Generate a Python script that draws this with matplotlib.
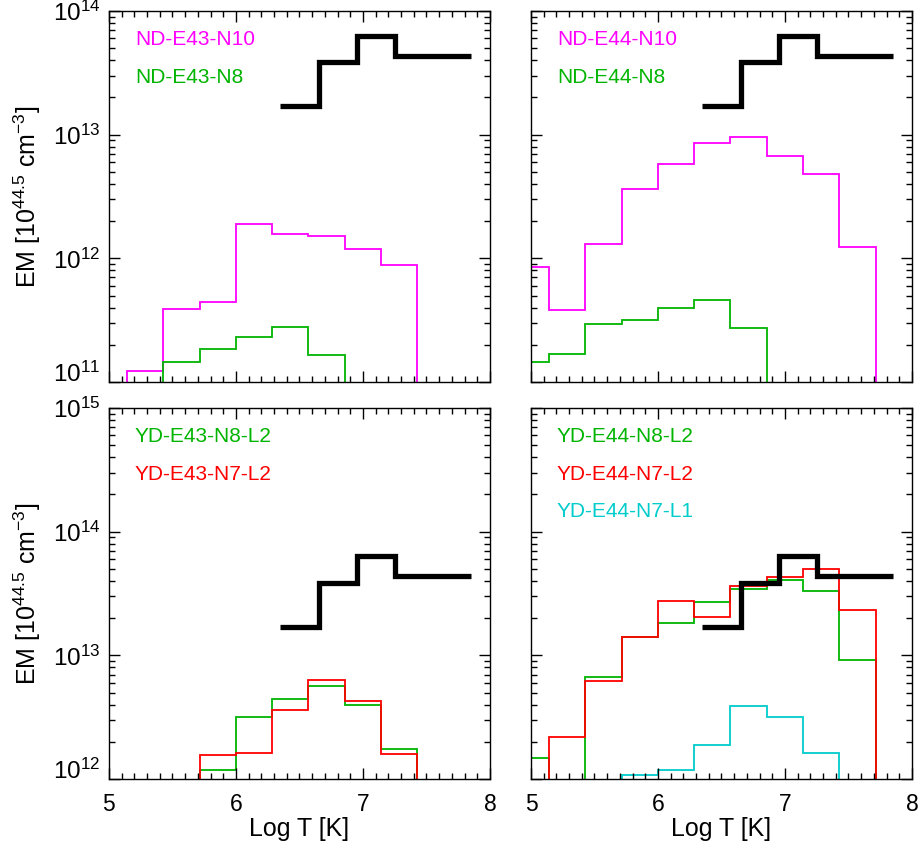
import matplotlib
matplotlib.use("Agg")
import matplotlib.pyplot as plt
from matplotlib.ticker import LogLocator, MultipleLocator, FixedLocator, NullFormatter
import numpy as np

plt.rcParams['font.family'] = ['Liberation Sans', 'DejaVu Sans']
plt.rcParams['mathtext.fontset'] = 'custom'
plt.rcParams['mathtext.rm'] = 'Liberation Sans'
plt.rcParams['mathtext.it'] = 'Liberation Sans:italic'
plt.rcParams['mathtext.bf'] = 'Liberation Sans:bold'

# ---------------- data ----------------
# bin edges in Log T
edges = [4.857, 5.143, 5.429, 5.714, 6.000, 6.286, 6.571, 6.857, 7.143, 7.429, 7.714, 8.0]
LOW = 1e-5  # below plotted range

# reference (thick black) curve
ref_edges = [6.35, 6.65, 6.95, 7.25, 7.85]
ref_vals = [1.70e13, 3.85e13, 6.3e13, 4.35e13]

# top-left
nd_e43_n10 = [LOW, 1.22e11, 3.9e11, 4.4e11, 1.88e12, 1.57e12, 1.52e12, 1.2e12, 8.9e11, LOW, LOW]
nd_e43_n8 = [LOW, LOW, 1.45e11, 1.85e11, 2.29e11, 2.76e11, 1.66e11, LOW, LOW, LOW, LOW]
# top-right
nd_e44_n10 = [8.5e11, 3.8e11, 1.31e12, 3.65e12, 5.77e12, 8.6e12, 9.6e12, 6.7e12, 4.8e12, 1.23e12, LOW]
nd_e44_n8 = [1.45e11, 1.68e11, 2.94e11, 3.15e11, 3.93e11, 4.58e11, 2.71e11, LOW, LOW, LOW, LOW]
# bottom-left
yd_e43_n8_l2 = [LOW, LOW, LOW, 1.18e12, 3.15e12, 4.4e12, 5.62e12, 3.95e12, 1.76e12, LOW, LOW]
yd_e43_n7_l2 = [LOW, LOW, LOW, 1.55e12, 1.62e12, 3.6e12, 6.37e12, 4.26e12, 1.58e12, LOW, LOW]
# bottom-right
yd_e44_n8_l2 = [1.47e12, LOW, 6.7e12, 1.42e13, 1.84e13, 2.68e13, 3.43e13, 4.03e13, 3.34e13, 9.2e12, LOW]
yd_e44_n7_l2 = [LOW, 2.18e12, 6.26e12, 1.42e13, 2.76e13, 2.05e13, 3.65e13, 4.32e13, 5.0e13, 2.34e13, LOW]
yd_e44_n7_l1 = [LOW, LOW, LOW, 1.07e12, 1.18e12, 1.89e12, 3.93e12, 3.19e12, 1.61e12, LOW, LOW]

MAG = '#ff00ff'
GRN = '#00b400'
RED = '#ff0000'
CYN = '#00cccc'

panels = [
    dict(pos=[0.1187, 0.5506, 0.415, 0.4365], ylim=(1e11, 1e14),
         series=[("ND-E43-N10", nd_e43_n10, MAG), ("ND-E43-N8", nd_e43_n8, GRN)],
         xl=False, yl=True),
    dict(pos=[0.5784, 0.5506, 0.415, 0.4365], ylim=(1e11, 1e14),
         series=[("ND-E44-N10", nd_e44_n10, MAG), ("ND-E44-N8", nd_e44_n8, GRN)],
         xl=False, yl=False),
    dict(pos=[0.1187, 0.0835, 0.415, 0.4365], ylim=(1e12, 1e15),
         series=[("YD-E43-N8-L2", yd_e43_n8_l2, GRN), ("YD-E43-N7-L2", yd_e43_n7_l2, RED)],
         xl=True, yl=True),
    dict(pos=[0.5784, 0.0835, 0.415, 0.4365], ylim=(1e12, 1e15),
         series=[("YD-E44-N8-L2", yd_e44_n8_l2, GRN), ("YD-E44-N7-L2", yd_e44_n7_l2, RED),
                 ("YD-E44-N7-L1", yd_e44_n7_l1, CYN)],
         xl=True, yl=False),
]

fig = plt.figure(figsize=(9.18, 8.5), dpi=100)

for p in panels:
    ax = fig.add_axes(p['pos'])
    ax.set_yscale('log')
    for label, vals, col in p['series']:
        ax.stairs(vals, edges, baseline=None, color=col, lw=1.3)
    ax.stairs(ref_vals, ref_edges, baseline=None, color='black', lw=3.8)
    ax.set_xlim(5, 8)
    ax.set_ylim(*p['ylim'])
    for i, (label, vals, col) in enumerate(p['series']):
        ax.text(0.068, 0.922 - i * 0.1, label, color=col, fontsize=15,
                transform=ax.transAxes, va='center', ha='left')
    ax.xaxis.set_major_locator(FixedLocator([5, 6, 7, 8]))
    ax.xaxis.set_minor_locator(MultipleLocator(0.1))
    ax.yaxis.set_major_locator(LogLocator(base=10, numticks=10))
    ax.yaxis.set_minor_locator(LogLocator(base=10, subs=np.arange(2, 10), numticks=20))
    ax.yaxis.set_minor_formatter(NullFormatter())
    ax.tick_params(which='both', direction='in', top=True, right=True)
    ax.tick_params(axis='x', which='major', labelsize=16.5, pad=10)
    ax.tick_params(axis='y', which='major', labelsize=17.5, pad=6)
    ax.tick_params(which='major', length=8, width=1.0)
    ax.tick_params(which='minor', length=4, width=1.0)
    for s in ax.spines.values():
        s.set_linewidth(1.0)
    if p['xl']:
        ax.set_xlabel('Log T [K]', fontsize=18, labelpad=1)
    else:
        ax.set_xticklabels([])
    if p['yl']:
        lo, hi = p['ylim']
        yt = [10.0 ** k for k in range(int(round(np.log10(lo))), int(round(np.log10(hi))) + 1)]
        ax.set_yticks(yt)
        labs = ax.set_yticklabels([r'$\mathregular{10^{%d}}$' % int(round(np.log10(v))) for v in yt])
        labs[0].set_va('baseline')
        ax.set_ylabel(r'EM [10$^{44.5}$ cm$^{-3}$]', fontsize=18, va='center')
        ax.yaxis.set_label_coords(-0.215, 0.5)
    else:
        ax.set_yticklabels([])

fig.savefig('out.png', dpi=100)
